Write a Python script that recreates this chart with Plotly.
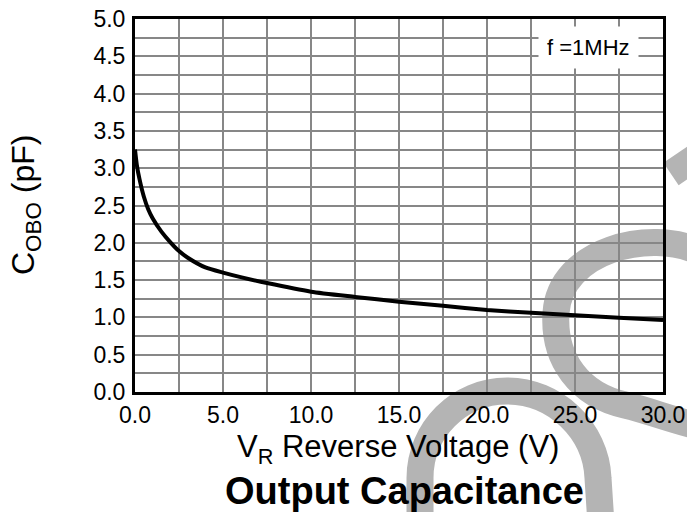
import plotly.graph_objects as go

# ---- data ----
voltage = [0, 0.1, 0.25, 0.5, 0.75, 1.0, 1.5, 2.0, 2.5, 3.0, 4.0, 5.0, 6.0, 7.5,
           10.0, 12.5, 15.0, 17.5, 20.0, 22.5, 25.0, 27.5, 30.0]
capacitance = [3.25, 3.05, 2.86, 2.62, 2.45, 2.33, 2.15, 2.01, 1.89, 1.80, 1.67, 1.60,
               1.54, 1.46, 1.345, 1.275, 1.21, 1.155, 1.10, 1.063, 1.03, 0.996, 0.965]

x_tick_vals = [0, 5, 10, 15, 20, 25, 30]
x_tick_text = ["0.0", "5.0", "10.0", "15.0", "20.0", "25.0", "30.0"]
y_tick_vals = [0, 0.5, 1.0, 1.5, 2.0, 2.5, 3.0, 3.5, 4.0, 4.5, 5.0]
y_tick_text = ["0.0", "0.5", "1.0", "1.5", "2.0", "2.5", "3.0", "3.5", "4.0", "4.5", "5.0"]

x_title = "V<sub>R</sub> Reverse Voltage (V)"
y_title = "C<sub>OBO</sub> (pF)"
chart_title = "<b>Output Capacitance</b>"
note = "f =1MHz"

# ---- layout geometry (pixels) ----
W, H = 687, 512
L, T, R, B = 135, 19, 24, 120
PW, PH = W - L - R, H - T - B

FONT = "Liberation Sans, Arial, Helvetica, sans-serif"
GRID = "#878787"


def P(x, y):
    return f"{(x - L) / PW:.4f},{(T + PH - y) / PH:.4f}"


# decorative watermark strokes (pixel geometry -> paper coords)
wm_paths = [
    "M" + P(700, 252) + " C" + P(650, 228) + " " + P(560, 250) + " " + P(556, 313)
    + " C" + P(553, 360) + " " + P(580, 395) + " " + P(625, 405)
    + " C" + P(650, 411) + " " + P(672, 420) + " " + P(705, 428),
    "M" + P(671, 174) + " L" + P(715, 144),
    "M" + P(420, 540) + " L" + P(420, 478) + " C" + P(420, 430) + " " + P(459, 391) + " " + P(507, 391)
    + " C" + P(555, 391) + " " + P(596, 430) + " " + P(598, 478) + " L" + P(602, 540),
]

fig = go.Figure()
fig.add_trace(go.Scatter(
    x=voltage, y=capacitance, mode="lines",
    line=dict(color="black", width=4, shape="spline", smoothing=0.6),
    hoverinfo="skip", showlegend=False,
))

shapes = [dict(type="path", path=p, xref="paper", yref="paper", layer="below",
               line=dict(color="#b4b4b4", width=27), fillcolor="rgba(0,0,0,0)")
          for p in wm_paths]

axis_common = dict(
    showline=True, linecolor="black", linewidth=3, mirror=True,
    ticks="", zeroline=False, showgrid=True, gridcolor=GRID, gridwidth=1.5,
    tickfont=dict(family=FONT, size=23, color="black"),
    fixedrange=True, automargin=False,
)

fig.update_layout(
    width=W, height=H, autosize=False,
    margin=dict(l=L, r=R, t=T, b=B, pad=0),
    paper_bgcolor="white", plot_bgcolor="rgba(0,0,0,0)",
    font=dict(family=FONT, color="black"),
    showlegend=False,
    xaxis=dict(range=[0, 30], tickmode="array", tickvals=x_tick_vals, ticktext=x_tick_text,
               minor=dict(dtick=2.5, tick0=0, showgrid=True, gridcolor=GRID, gridwidth=1.5),
               ticklabelstandoff=0, **axis_common),
    yaxis=dict(range=[0, 5], tickmode="array", tickvals=y_tick_vals, ticktext=y_tick_text,
               minor=dict(dtick=0.25, tick0=0, showgrid=True, gridcolor=GRID, gridwidth=1.5),
               ticklabelstandoff=2, **axis_common),
    shapes=shapes,
    annotations=[
        dict(text=note, xref="paper", yref="paper", x=(588 - L) / PW, y=(T + PH - 47) / PH,
             xanchor="center", yanchor="middle",
             showarrow=False, bgcolor="white", borderpad=8,
             font=dict(family=FONT, size=22, color="black")),
        dict(text=x_title, xref="paper", yref="paper", x=(398 - L) / PW, y=(T + PH - 449) / PH,
             xanchor="center", yanchor="middle", showarrow=False,
             font=dict(family=FONT, size=31, color="black")),
        dict(text=y_title, xref="paper", yref="paper", x=(25 - L) / PW, y=(T + PH - 205) / PH,
             xanchor="center", yanchor="middle", textangle=-90, showarrow=False,
             font=dict(family=FONT, size=32, color="black")),
        dict(text=chart_title, xref="paper", yref="paper", x=(404 - L) / PW, y=(T + PH - 491) / PH,
             xanchor="center", yanchor="middle", showarrow=False,
             font=dict(family=FONT, size=38, color="black")),
    ],
)

fig.write_html("out.html", config={"displayModeBar": False})
